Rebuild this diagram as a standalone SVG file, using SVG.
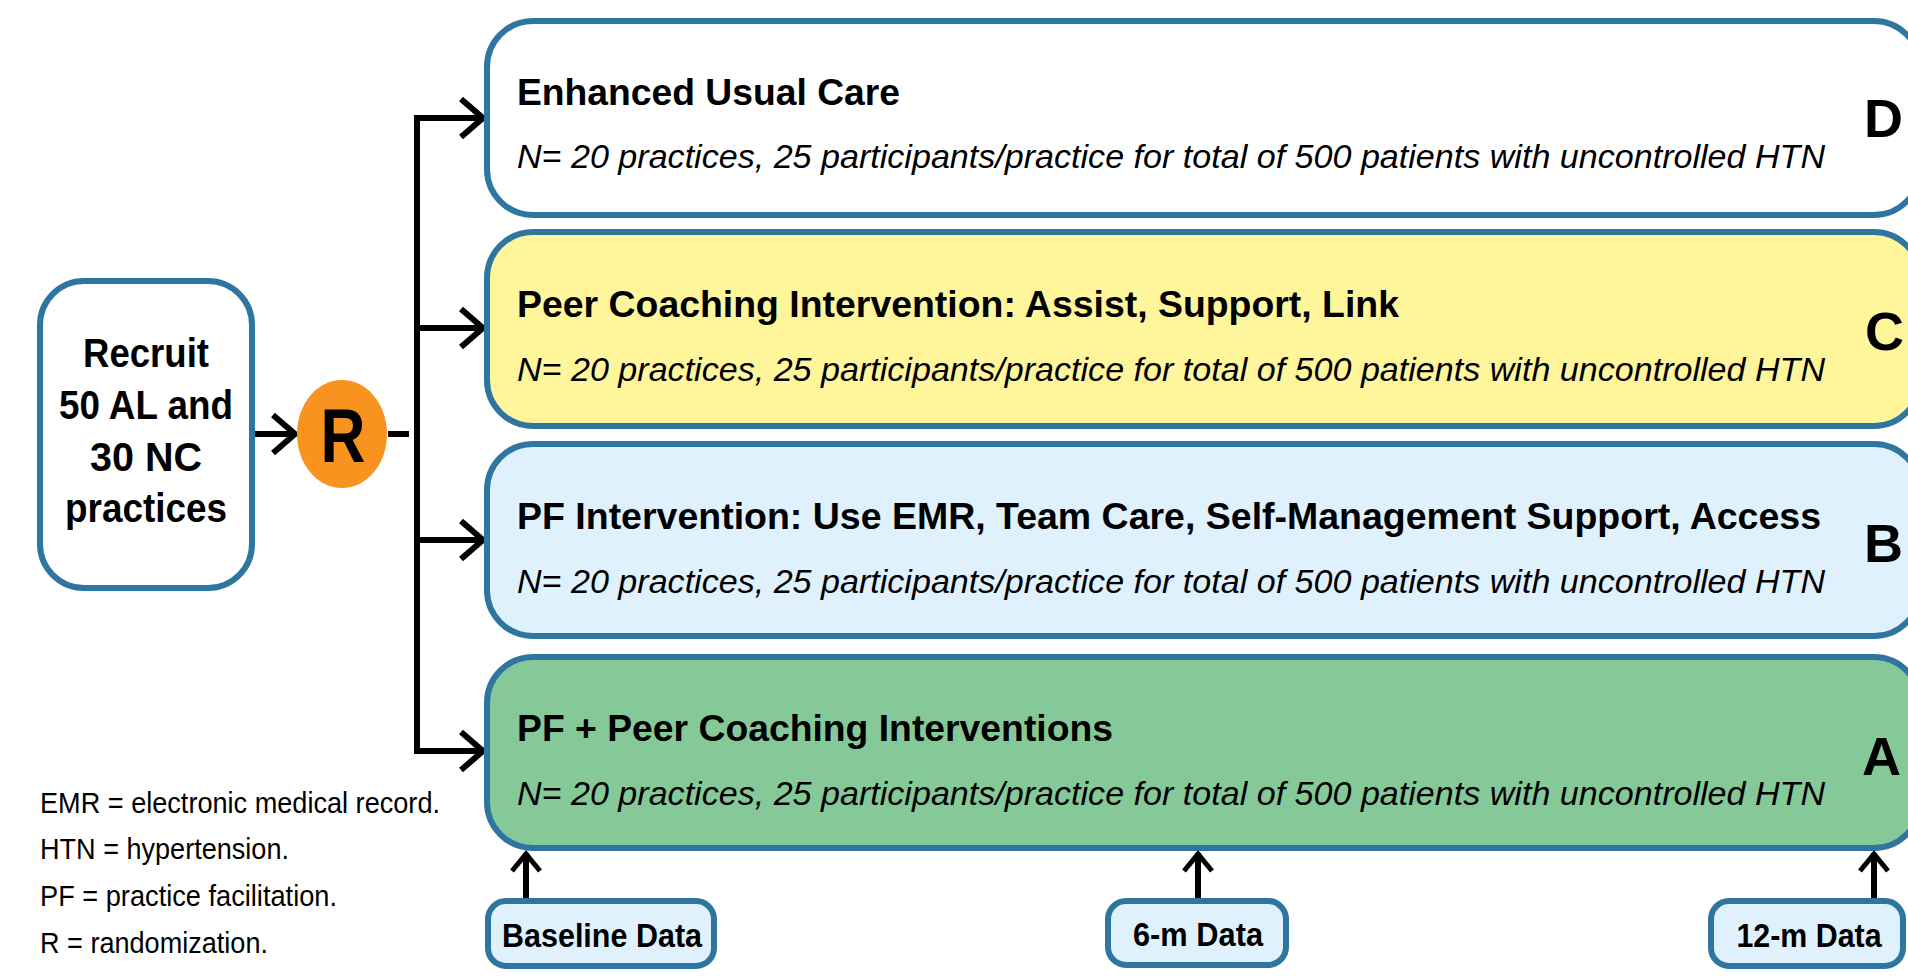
<svg xmlns="http://www.w3.org/2000/svg" width="1908" height="977" viewBox="0 0 1908 977">
<style>
.box{stroke:#2E75A0;stroke-width:6}
.title{font-family:"Liberation Sans",Arial,sans-serif;font-weight:bold;font-size:37px;fill:#000}
.sub{font-family:"Liberation Sans",Arial,sans-serif;font-style:italic;font-size:34px;fill:#000}
.letter{font-family:"Liberation Sans",Arial,sans-serif;font-weight:bold;font-size:54px;fill:#000}
.rec{font-family:"Liberation Sans",Arial,sans-serif;font-weight:bold;font-size:41px;fill:#000;text-anchor:middle}
.data{font-family:"Liberation Sans",Arial,sans-serif;font-weight:bold;font-size:34px;fill:#000;text-anchor:middle}
.leg{font-family:"Liberation Sans",Arial,sans-serif;font-size:30px;fill:#000}
.conn{stroke:#000;stroke-width:6;fill:none}
</style>
<defs>
<marker id="chev" viewBox="0 0 30 44" refX="27" refY="22" markerWidth="30" markerHeight="44" markerUnits="userSpaceOnUse" orient="auto">
<path d="M4,3 L26,22 L4,41" fill="none" stroke="#000" stroke-width="6"/>
</marker>
<marker id="chevs" viewBox="0 0 24 34" refX="21" refY="17" markerWidth="24" markerHeight="34" markerUnits="userSpaceOnUse" orient="auto">
<path d="M3,3 L20,17 L3,31" fill="none" stroke="#000" stroke-width="5"/>
</marker>
</defs>
<rect width="1908" height="977" fill="#fff"/>

<g id="connectors">
<path class="conn" d="M252,434 H296" marker-end="url(#chev)"/>
<path class="conn" d="M388,434 H409"/>
<path class="conn" d="M417,115 V754"/>
<path class="conn" d="M414,118 H484" marker-end="url(#chev)"/>
<path class="conn" d="M414,328 H484" marker-end="url(#chev)"/>
<path class="conn" d="M414,540 H484" marker-end="url(#chev)"/>
<path class="conn" d="M414,751 H484" marker-end="url(#chev)"/>
<path class="conn" d="M526,900 V853" stroke-width="5" marker-end="url(#chevs)"/>
<path class="conn" d="M1198,900 V853" stroke-width="5" marker-end="url(#chevs)"/>
<path class="conn" d="M1874,900 V853" stroke-width="5" marker-end="url(#chevs)"/>
</g>

<g id="recruit">
<rect class="box" x="40" y="281" width="212" height="307" rx="44" fill="#fff"/>
<text class="rec" x="146" y="367" textLength="126" lengthAdjust="spacingAndGlyphs">Recruit</text>
<text class="rec" x="146" y="419" textLength="174" lengthAdjust="spacingAndGlyphs">50 AL and</text>
<text class="rec" x="146" y="471" textLength="112" lengthAdjust="spacingAndGlyphs">30 NC</text>
<text class="rec" x="146" y="522" textLength="162" lengthAdjust="spacingAndGlyphs">practices</text>
</g>

<g id="randomize">
<ellipse cx="342" cy="434" rx="45" ry="54" fill="#F7931E"/>
<text x="343" y="462" font-family="Liberation Sans, Arial, sans-serif" font-weight="bold" font-size="76" text-anchor="middle" fill="#000" textLength="45" lengthAdjust="spacingAndGlyphs">R</text>
</g>

<g id="armD">
<rect class="box" x="487" y="21" width="1433" height="194" rx="46" fill="#fff"/>
<text class="title" x="517" y="105" textLength="383" lengthAdjust="spacingAndGlyphs">Enhanced Usual Care</text>
<text class="sub" x="517" y="168" textLength="1308" lengthAdjust="spacingAndGlyphs">N= 20 practices, 25 participants/practice for total of 500 patients with uncontrolled HTN</text>
<text class="letter" x="1864" y="137">D</text>
</g>

<g id="armC">
<rect class="box" x="487" y="232" width="1433" height="194" rx="46" fill="#FFF59B"/>
<text class="title" x="517" y="317" textLength="882" lengthAdjust="spacingAndGlyphs">Peer Coaching Intervention: Assist, Support, Link</text>
<text class="sub" x="517" y="381" textLength="1308" lengthAdjust="spacingAndGlyphs">N= 20 practices, 25 participants/practice for total of 500 patients with uncontrolled HTN</text>
<text class="letter" x="1865" y="350">C</text>
</g>

<g id="armB">
<rect class="box" x="487" y="444" width="1433" height="192" rx="46" fill="#DFF1FC"/>
<text class="title" x="517" y="529" textLength="1304" lengthAdjust="spacingAndGlyphs">PF Intervention: Use EMR, Team Care, Self-Management Support, Access</text>
<text class="sub" x="517" y="593" textLength="1308" lengthAdjust="spacingAndGlyphs">N= 20 practices, 25 participants/practice for total of 500 patients with uncontrolled HTN</text>
<text class="letter" x="1864" y="562">B</text>
</g>

<g id="armA">
<rect class="box" x="487" y="657" width="1433" height="191" rx="46" fill="#86C998"/>
<text class="title" x="517" y="741" textLength="596" lengthAdjust="spacingAndGlyphs">PF + Peer Coaching Interventions</text>
<text class="sub" x="517" y="805" textLength="1308" lengthAdjust="spacingAndGlyphs">N= 20 practices, 25 participants/practice for total of 500 patients with uncontrolled HTN</text>
<text class="letter" x="1862" y="775">A</text>
</g>

<g id="baseline">
<rect class="box" x="488" y="901" width="226" height="65" rx="18" fill="#DFF1FC"/>
<text class="data" x="602" y="947" textLength="200" lengthAdjust="spacingAndGlyphs">Baseline Data</text>
</g>
<g id="sixm">
<rect class="box" x="1108" y="901" width="178" height="64" rx="18" fill="#DFF1FC"/>
<text class="data" x="1198" y="946" textLength="130" lengthAdjust="spacingAndGlyphs">6-m Data</text>
</g>
<g id="twelvem">
<rect class="box" x="1711" y="901" width="192" height="65" rx="18" fill="#DFF1FC"/>
<text class="data" x="1809" y="947" textLength="145" lengthAdjust="spacingAndGlyphs">12-m Data</text>
</g>

<g id="legend">
<text class="leg" x="40" y="813" textLength="400" lengthAdjust="spacingAndGlyphs">EMR = electronic medical record.</text>
<text class="leg" x="40" y="859" textLength="249" lengthAdjust="spacingAndGlyphs">HTN = hypertension.</text>
<text class="leg" x="40" y="906" textLength="297" lengthAdjust="spacingAndGlyphs">PF = practice facilitation.</text>
<text class="leg" x="40" y="953" textLength="228" lengthAdjust="spacingAndGlyphs">R = randomization.</text>
</g>
</svg>
